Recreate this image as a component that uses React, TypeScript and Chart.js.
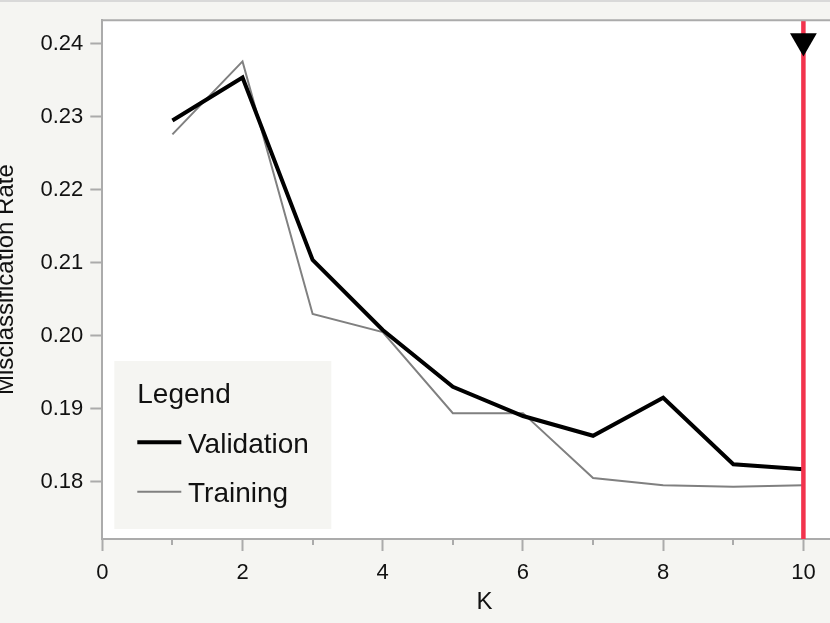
import { useEffect, useRef } from 'react';
import { Chart, registerables } from 'chart.js';

Chart.register(...registerables);

// ---- data ----
const kValues = [1, 2, 3, 4, 5, 6, 7, 8, 9, 10];
const validationRate = [0.2295, 0.2354, 0.2104, 0.2008, 0.193, 0.189, 0.1863, 0.1915, 0.1824, 0.1817];
const trainingRate = [0.2276, 0.2376, 0.203, 0.2005, 0.1894, 0.1894, 0.1805, 0.1795, 0.1793, 0.1795];
const xTicks = [0, 1, 2, 3, 4, 5, 6, 7, 8, 9, 10];
const yTicks = [0.18, 0.19, 0.2, 0.21, 0.22, 0.23, 0.24];
const xRange = [0, 10.9];
const yRange = [0.17215, 0.24325];
const selectedK = 10;
const markerRate = 0.2404;
const seriesNames = ['Validation', 'Training'];
const legendTitle = 'Legend';
const xTitle = 'K';
const yTitle = 'Misclassification Rate';

const FONT = '"Liberation Sans", Arial, Helvetica, sans-serif';
const AXIS = '#ababab';
const BG = '#f5f5f2';

const framePlugin = {
  id: 'frame',
  beforeDraw(chart: any) {
    const { ctx, chartArea } = chart;
    const { left, top, right, bottom } = chartArea;
    ctx.save();
    ctx.fillStyle = '#ffffff';
    ctx.fillRect(left, top, right - left, bottom - top);
    ctx.restore();
  },
  afterDraw(chart: any) {
    const { ctx, chartArea } = chart;
    const { left, top, right, bottom } = chartArea;
    ctx.save();
    // top border
    ctx.strokeStyle = AXIS;
    ctx.lineWidth = 2;
    ctx.beginPath();
    ctx.moveTo(left - 1, top);
    ctx.lineTo(right, top);
    ctx.stroke();
    // minor x ticks
    const xs = chart.scales.x;
    xTicks.forEach((v) => {
      if (v % 2 === 1) {
        const px = Math.round(xs.getPixelForValue(v));
        ctx.beginPath();
        ctx.moveTo(px, bottom);
        ctx.lineTo(px, bottom + 6);
        ctx.stroke();
      }
    });
    // legend
    const lx = left + 12;
    const ly = bottom - 178;
    ctx.fillStyle = BG;
    ctx.fillRect(lx, ly, 217, 168);
    ctx.fillStyle = '#111';
    ctx.font = `28px ${FONT}`;
    ctx.textBaseline = 'alphabetic';
    ctx.textAlign = 'left';
    ctx.fillText(legendTitle, lx + 23, ly + 42);
    const entries = chart.data.datasets.filter((d: any) => seriesNames.includes(d.label));
    entries.forEach((d: any, i: number) => {
      const yy = ly + 81.3 + i * 49.4;
      ctx.strokeStyle = d.borderColor;
      ctx.lineWidth = d.borderWidth;
      ctx.beginPath();
      ctx.moveTo(lx + 23, yy);
      ctx.lineTo(lx + 67, yy);
      ctx.stroke();
      ctx.fillStyle = '#111';
      ctx.fillText(d.label, lx + 73.7, yy + 10.4);
    });
    ctx.restore();
  },
};

export default function App() {
  const ref = useRef<HTMLCanvasElement | null>(null);

  useEffect(() => {
    if (!ref.current) return;
    Chart.defaults.font.family = FONT;
    const chart = new Chart(ref.current, {
      type: 'line',
      data: {
        datasets: [
          {
            label: 'marker',
            data: [{ x: selectedK, y: markerRate }],
            showLine: false,
            pointStyle: 'triangle',
            rotation: 180,
            pointRadius: 15.5,
            backgroundColor: '#000',
            borderColor: '#000',
            borderWidth: 0,
          },
          {
            label: 'selected',
            data: [
              { x: selectedK, y: yRange[0] },
              { x: selectedK, y: yRange[1] },
            ],
            borderColor: '#f2334d',
            borderWidth: 4.5,
            pointRadius: 0,
          },
          {
            label: seriesNames[0],
            data: kValues.map((k, i) => ({ x: k, y: validationRate[i] })),
            borderColor: '#000000',
            borderWidth: 4,
            borderJoinStyle: 'miter',
            pointRadius: 0,
            tension: 0,
          },
          {
            label: seriesNames[1],
            data: kValues.map((k, i) => ({ x: k, y: trainingRate[i] })),
            borderColor: '#808080',
            borderWidth: 2,
            borderJoinStyle: 'miter',
            pointRadius: 0,
            tension: 0,
          },
        ],
      } as any,
      options: {
        animation: false,
        responsive: false,
        devicePixelRatio: 1,
        layout: { padding: { top: 20, right: 10, bottom: 0, left: 0 } },
        plugins: { legend: { display: false }, tooltip: { enabled: false } },
        scales: {
          x: {
            type: 'linear',
            min: xRange[0],
            max: xRange[1],
            afterBuildTicks: (s: any) => {
              s.ticks = xTicks.map((v) => ({ value: v }));
            },
            afterFit: (s: any) => {
              s.height = 84;
            },
            ticks: {
              color: '#111',
              font: { size: 22 },
              padding: 9,
              maxRotation: 0,
              autoSkip: false,
              callback: (v: any) => (Number(v) % 2 === 0 ? String(v) : ''),
            },
            grid: {
              drawOnChartArea: false,
              tickLength: 12,
              tickWidth: 2,
              tickColor: (c: any) => (c.tick && c.tick.value % 2 === 1 ? 'rgba(0,0,0,0)' : AXIS),
            },
            border: { display: true, color: AXIS, width: 2 },
            title: { display: true, text: xTitle, color: '#111', font: { size: 24 }, padding: { top: 0, bottom: 6.6 } },
          },
          y: {
            type: 'linear',
            min: yRange[0],
            max: yRange[1],
            afterBuildTicks: (s: any) => {
              s.ticks = yTicks.map((v) => ({ value: v }));
            },
            afterFit: (s: any) => {
              s.width = 110.3;
            },
            ticks: {
              color: '#111',
              font: { size: 22 },
              padding: 7,
              callback: (v: any) => Number(v).toFixed(2),
            },
            grid: { drawOnChartArea: false, tickLength: 12, tickWidth: 2, tickColor: AXIS },
            border: { display: true, color: AXIS, width: 2 },
            title: { display: true, text: yTitle, color: '#111', font: { size: 24 }, padding: { top: 0, bottom: 0 } },
          },
        },
      } as any,
      plugins: [framePlugin],
    });
    return () => chart.destroy();
  }, []);

  return (
    <div
      style={{
        position: 'fixed',
        left: 0,
        top: 0,
        width: 830,
        height: 623,
        overflow: 'hidden',
        background: BG,
      }}
    >
      <canvas ref={ref} width={890} height={623} style={{ position: 'absolute', left: -8, top: 0, width: 890, height: 623 }} />
      <div style={{ position: 'absolute', left: 0, top: 0, width: 830, height: 2, background: '#d9d9d9' }} />
    </div>
  );
}
